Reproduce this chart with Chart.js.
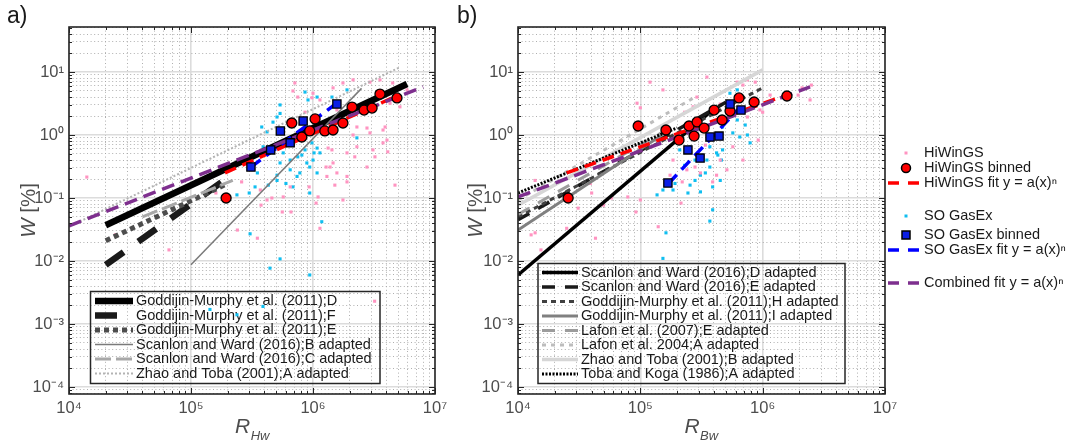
<!DOCTYPE html>
<html>
<head>
<meta charset="utf-8">
<script src="https://cdn.jsdelivr.net/npm/chart.js"></script>
<style>
  html, body { margin: 0; padding: 0; background: #fff; }
  #wrap { position: relative; width: 1066px; height: 441px; }
  #ca { position: absolute; left: 0; top: 0; }
  #cb { position: absolute; left: 455px; top: 0; }
</style>
</head>
<body>
<div id="wrap">
  <canvas id="ca" width="455" height="441"></canvas>
  <canvas id="cb" width="611" height="441"></canvas>
</div>
<script>
// axis limits
var xLimits = [1e4, 1e7]
var yLimits = [7.74e-5, 51.8]

// ---- panel a) : against R_Hw ----
var aPinkX = [1.4e4, 2.4e4, 6.6e4, 1.6e5, 2.4e5, 3.5e5, 3.75e5, 4.6e5, 5.6e5, 6.6e5, 9.3e5, 1.06e6, 1.14e6, 1.28e6, 3.2e6, 6.5e5, 5.7e5, 4.2e5, 3.7e5, 2.6e5, 7.1e5, 1.46e6, 2.13e6, 2.93e6, 3.54e6, 1.0e6, 1.14e6, 1.57e6, 1.9e6, 2.29e6, 2.13e6, 2.77e6, 3.75e6, 4.04e6, 3.1e6, 2.29e6, 1.43e6, 1.3e6, 1.9e6, 1.46e6, 4.28e6, 5.16e6, 7.5e5, 9.8e5, 1.33e6, 1.9e6, 2.2e6, 1.57e6, 1.9e6, 1.51e6, 1.1e6, 2.77e6, 3.22e6, 3.75e6, 4.1e6, 3.9e6, 2.93e6, 1.76e6, 4.5e6, 4.9e6, 5.9e6, 1.76e6, 1.38e6, 6.85e5, 8.6e5, 4.7e6]
var aPinkY = [0.215, 0.026, 0.015, 0.12, 0.031, 0.023, 0.077, 0.10, 0.060, 0.060, 0.15, 0.083, 0.033, 0.31, 0.0023, 0.15, 0.104, 0.093, 0.134, 0.18, 6.7, 5.6, 7.5, 6.9, 7.5, 4.6, 3.6, 2.5, 2.2, 1.34, 1.0, 1.29, 1.2, 0.83, 0.58, 0.65, 0.58, 0.22, 0.22, 0.36, 3.2, 2.8, 4.0, 3.9, 0.62, 0.52, 0.45, 0.25, 0.18, 0.16, 0.104, 0.31, 0.45, 0.75, 0.54, 1.34, 1.08, 0.093, 6.7, 5.2, 5.2, 6.7, 0.31, 5.0, 2.3, 0.16]
var aCyanX = [3.05e5, 5.37e5, 4.44e5, 9.4e5, 1.18e6, 1.43e5, 2.38e5, 3.89e5, 2.38e5, 3.0e5, 4.3e5, 5.07e5, 6.0e5, 8.1e5, 8.9e5, 1.02e6, 3.8e5, 4.7e5, 5.37e5, 5.37e5, 8.6e5, 9.1e5, 1.08e6, 3.9e5, 5.7e5, 6.5e5, 7.5e5, 8.6e5, 9.8e5, 1.08e6, 1.0e6, 1.14e6, 6.5e5, 9.4e5, 7.4e5, 5.07e5, 3.5e5, 3.35e5, 5.07e5, 4.2e5, 8.9e5, 1.04e6, 1.43e6, 1.9e6, 1.57e6, 2.29e6, 9.4e5, 6.85e5, 7.8e5, 5.37e5, 1.08e6]
var aCyanY = [0.027, 0.0108, 0.0077, 0.006, 0.042, 0.0017, 0.0014, 0.0019, 0.112, 0.12, 0.16, 0.23, 0.17, 0.48, 0.36, 0.52, 1.34, 1.6, 3.0, 2.2, 4.8, 3.6, 4.0, 0.65, 0.52, 0.40, 0.45, 0.58, 0.75, 0.62, 0.40, 0.52, 0.28, 0.31, 0.22, 0.19, 0.25, 0.15, 1.93, 1.12, 1.34, 1.12, 4.0, 5.2, 3.3, 0.9, 0.12, 0.15, 0.25, 0.36, 0.25]
var aBinX = [1.94e5, 6.7e5, 8.1e5, 9.4e5, 1.04e6, 1.25e6, 1.46e6, 1.76e6, 2.09e6, 2.62e6, 3.05e6, 3.54e6, 4.88e6]
var aBinY = [0.10, 1.55, 0.93, 1.16, 1.80, 1.16, 1.20, 1.55, 2.78, 2.49, 2.68, 4.47, 3.87]
var aSoBinX = [3.1e5, 4.5e5, 5.4e5, 6.5e5, 8.3e5, 1.57e6]
var aSoBinY = [0.31, 0.58, 1.16, 0.75, 1.67, 3.1]

var aRefNames = ['Goddijin-Murphy et al. (2011);D', 'Goddijin-Murphy et al. (2011);F', 'Goddijin-Murphy et al. (2011);E', 'Scanlon and Ward (2016);B adapted', 'Scanlon and Ward (2016);C adapted', 'Zhao and Toba (2001);A adapted']
var aRefX = [[2e4, 5.9e6], [2e4, 2e5], [2e4, 2e5], [1e5, 2.5e6], [4e4, 2.2e5], [1e4, 5.2e6]]
var aRefY = [[0.037, 6.45], [0.0087, 0.21], [0.021, 0.17], [0.0087, 5.5], [0.05, 0.19], [0.035, 12]]

var aFitX = [[1.9e5, 4.9e6], [3.1e5, 1.6e6], [1e4, 8e6]]
var aFitY = [[0.25, 4.2], [0.31, 3.3], [0.036, 5.8]]

// ---- panel b) : against R_Bw ----
var bPinkX = [1.38e4, 9.4e4, 1.2e5, 1.53e5, 2.9e5, 3.5e5, 6.2e5, 7.5e5, 8.7e5, 2.3e5, 1.85e5, 2.4e5, 2.2e5, 3.1e5, 4.5e5, 5.7e5, 7.5e5, 9.5e5, 7.9e4, 1.0e5, 3.9e4, 1.0e5, 2.7e5, 6.9e5, 9.0e5, 1.0e6, 9.2e5, 6.9e5, 5.1e5, 4.2e5, 3.9e5, 2.8e5, 1.75e5, 4.0e4, 2.1e6, 2.44e6, 1.95e6, 2.5e6, 1.28e4, 1.54e4, 2.5e4, 3.1e4, 4.3e4, 5.0e4, 5.8e4, 9.2e4, 1.4e5, 2.15e5, 4.5e5, 3.4e5, 1.15e6, 1.38e4]
var bPinkY = [0.19, 3.2, 6.9, 5.2, 4.0, 8.3, 6.9, 7.5, 6.9, 2.3, 0.40, 0.28, 0.18, 0.25, 0.40, 0.65, 1.93, 2.5, 0.104, 0.093, 0.17, 2.7, 2.8, 6.2, 3.2, 2.3, 0.83, 0.40, 0.28, 0.23, 0.18, 0.31, 0.23, 0.12, 5.6, 3.6, 4.3, 6.2, 0.026, 0.015, 0.033, 0.069, 0.023, 0.077, 0.10, 0.060, 0.035, 0.083, 3.1, 0.69, 4.3, 0.028]
var bCyanX = [5.4e5, 6.2e5, 4.7e5, 6.2e5, 5.7e5, 6.5e5, 7.5e5, 7.9e5, 3.7e5, 4.2e5, 4.7e5, 4.6e5, 3.5e5, 3.7e5, 2.55e5, 2.1e5, 3.1e5, 1.85e5, 2.55e5, 1.53e5, 1.37e5, 3.9e5, 4.5e5, 1.92e5, 2.45e5, 3.1e5, 3.7e5, 1.53e5, 1.62e5, 4.3e5, 3.9e5, 2.8e5, 5.1e5, 7.2e5, 3.4e5, 2.3e5, 2.8e5]
var bCyanY = [4.6, 5.2, 1.34, 1.73, 1.08, 0.93, 1.0, 0.75, 0.65, 0.52, 0.58, 0.40, 0.40, 0.31, 0.65, 0.58, 0.23, 0.134, 0.16, 0.134, 0.112, 0.15, 0.19, 0.17, 0.12, 0.125, 0.043, 0.011, 0.028, 0.48, 0.065, 0.40, 2.3, 1.44, 0.25, 0.33, 0.19]
var bBinX = [2.57e4, 9.6e4, 1.62e5, 2.07e5, 2.5e5, 2.91e5, 2.75e5, 3.32e5, 4.01e5, 4.66e5, 5.41e5, 6.41e5, 8.51e5, 1.58e6]
var bBinY = [0.10, 1.39, 1.20, 0.83, 1.39, 1.61, 0.96, 1.29, 2.49, 1.73, 2.40, 3.87, 3.34, 4.16]
var bSoBinX = [1.68e5, 2.45e5, 3.08e5, 3.71e5, 4.4e5, 5.41e5, 6.65e5]
var bSoBinY = [0.173, 0.58, 0.43, 0.93, 0.96, 3.1, 2.49]

var bRefNames = ['Scanlon and Ward (2016);D adapted', 'Scanlon and Ward (2016);E adapted', 'Goddijin-Murphy et al. (2011);H adapted', 'Goddijin-Murphy et al. (2011);I adapted', 'Lafon et al. (2007);E adapted', 'Lafon et al. 2004;A adapted', 'Zhao and Toba (2001);B adapted', 'Toba and Koga (1986);A adapted']
var bRefX = [[1e4, 3.9e5], [1e4, 5e5], [1e4, 1e6], [1e4, 1.5e5], [1e4, 2e5], [1e4, 2.8e5], [1e4, 1e6], [1e4, 2e5]]
var bRefY = [[0.006, 2.5], [0.045, 3.3], [0.05, 5.6], [0.031, 1.0], [0.055, 1.5], [0.093, 4.0], [0.077, 10.8], [0.12, 1.3]]

var bFitX = [[2.5e4, 1.67e6], [1.7e5, 6.5e5], [1e4, 2.44e6]]
var bFitY = [[0.25, 4.5], [0.17, 2.7], [0.104, 5.8]]

var fitNames = ['HiWinGS fit y = a(x)ⁿ', 'SO GasEx fit y = a(x)ⁿ', 'Combined fit y = a(x)ⁿ']

// line styles (kept apart from the values)
var aRefStyles = [
  {color: '#000000', width: 6.5, dash: []},
  {color: '#1a1a1a', width: 6.5, dash: [22, 18]},
  {color: '#4d4d4d', width: 5, dash: [5, 4]},
  {color: '#7a7a7a', width: 1.5, dash: []},
  {color: '#a8a8a8', width: 3, dash: [16, 5]},
  {color: '#b3b3b3', width: 2, dash: [2, 2]}
]
var bRefStyles = [
  {color: '#000000', width: 3.5, dash: []},
  {color: '#1a1a1a', width: 3.5, dash: [13, 10]},
  {color: '#404040', width: 3, dash: [5, 4]},
  {color: '#808080', width: 3, dash: []},
  {color: '#9c9c9c', width: 3, dash: [13, 10]},
  {color: '#bdbdbd', width: 3, dash: [4, 5]},
  {color: '#d6d6d6', width: 3.5, dash: []},
  {color: '#000000', width: 3, dash: [2, 1.5]}
]
var fitStyles = [
  {color: '#ff0000', width: 3.5, dash: [12, 7]},
  {color: '#0000ff', width: 3.5, dash: [12, 7]},
  {color: '#7e2f8e', width: 3.5, dash: [13, 7]}
]
var PINK = '#ff94c1'
var CYAN = '#10bef0'
var FONT = '"Liberation Sans", Arial, Helvetica, sans-serif'

Chart.defaults.font.family = FONT

var SUP = {'-': '⁻', '0': '⁰', '1': '¹', '2': '²', '3': '³', '4': '⁴', '5': '⁵', '6': '⁶', '7': '⁷', '8': '⁸', '9': '⁹'}

function decadeLabel(v) {
  var e = Math.round(Math.log10(v))
  if (Math.abs(v / Math.pow(10, e) - 1) > 1e-6) return ''
  return '10' + String(e).split('').map(function(c){ return SUP[c] }).join('')
}

// 1..9 x 10^n ticks, like a matlab log axis
function logTicks(scale) {
  var lo = Math.floor(Math.log10(scale.min)), hi = Math.ceil(Math.log10(scale.max))
  var out = []
  for (var e = lo; e <= hi; e++) {
    for (var k = 1; k <= 9; k++) {
      var v = k * Math.pow(10, e)
      if (v >= scale.min && v <= scale.max * 1.000001) out.push({value: v, major: k === 1})
    }
  }
  scale.ticks = out
}

function pts(xs, ys) {
  return xs.map(function(x, i){ return {x: x, y: ys[i]} })
}

function line(label, xs, ys, st, order) {
  return {label: label, data: pts(xs, ys), showLine: true, pointRadius: 0, borderColor: st.color,
    backgroundColor: st.color, borderWidth: st.width, borderDash: st.dash, borderCapStyle: 'butt', fill: false, order: order}
}
function dots(label, xs, ys, color) {
  return {label: label, data: pts(xs, ys), pointStyle: 'rect', pointRadius: 2.2, pointBorderWidth: 0,
    backgroundColor: color, borderColor: color, borderWidth: 0, showLine: false, order: 4}
}
function circles(label, xs, ys) {
  return {label: label, data: pts(xs, ys), pointStyle: 'circle', pointRadius: 5, pointBorderWidth: 1.3,
    backgroundColor: '#ff0000', borderColor: '#000000', showLine: false, order: 1.1}
}
function squares(label, xs, ys) {
  return {label: label, data: pts(xs, ys), pointStyle: 'rect', pointRadius: 5.8, pointBorderWidth: 1.3,
    backgroundColor: '#0a1ee6', borderColor: '#000000', showLine: false, order: 1}
}

function buildSets(refNames, refX, refY, refStyles, fitX, fitY, pinkX, pinkY, cyanX, cyanY, binX, binY, soX, soY) {
  var ds = []
  refNames.forEach(function(n, i){
    ds.push(line(n, refX[i], refY[i], refStyles[i], 3 + (refNames.length - i) / 100))
  })
  fitNames.forEach(function(n, i){
    ds.push(line(n, fitX[i], fitY[i], fitStyles[i], 2 + (fitNames.length - i) / 100))
  })
  ds.push(dots('HiWinGS', pinkX, pinkY, PINK))
  ds.push(dots('SO GasEx', cyanX, cyanY, CYAN))
  ds.push(circles('HiWinGS binned', binX, binY))
  ds.push(squares('SO GasEx binned', soX, soY))
  return ds
}

var panelCfg = {
  ca: {tag: 'a)', tagX: 7, yTitleX: 29, xTitleCx: 252, sub: 'Hw',
    box: {left: 90.5, top: 291.5, right: 380, bottom: 383.5, rowTop: 301, rowStep: 14.5, lineFrom: 95, lineTo: 133, textX: 136, items: [0, 1, 2, 3, 4, 5]},
    outer: null},
  cb: {tag: 'b)', tagX: 2, yTitleX: 21, xTitleCx: 246, sub: 'Bw',
    box: {left: 83, top: 263.5, right: 390, bottom: 383.5, rowTop: 272.5, rowStep: 14.5, lineFrom: 87, lineTo: 123, textX: 126, items: [0, 1, 2, 3, 4, 5, 6, 7]},
    outer: {markX: 451, lineFrom: 433, lineTo: 465, textX: 469, rows: [
      {ds: 11, kind: 'dot', y: 153}, {ds: 13, kind: 'circle', y: 168}, {ds: 8, kind: 'line', y: 183},
      {ds: 12, kind: 'dot', y: 216}, {ds: 14, kind: 'square', y: 235}, {ds: 9, kind: 'line', y: 250},
      {ds: 10, kind: 'line', y: 283}]}}
}

var paper = {
  id: 'paper',
  beforeDatasetsDraw: function(chart) {
    // legend box inside the axes (transparent, data drawn over it)
    var cfg = panelCfg[chart.canvas.id], b = cfg.box, ctx = chart.ctx
    ctx.save()
    ctx.strokeStyle = '#262626'
    ctx.lineWidth = 1.5
    ctx.strokeRect(b.left, b.top, b.right - b.left, b.bottom - b.top)
    b.items.forEach(function(di, r){
      var ds = chart.data.datasets[di]
      var y = b.rowTop + r * b.rowStep
      ctx.save()
      ctx.strokeStyle = ds.borderColor
      ctx.lineWidth = ds.borderWidth
      ctx.lineCap = 'butt'
      ctx.setLineDash(ds.borderDash || [])
      ctx.beginPath(); ctx.moveTo(b.lineFrom, y); ctx.lineTo(b.lineTo, y); ctx.stroke()
      ctx.restore()
      ctx.fillStyle = '#1a1a1a'
      ctx.font = '14.5px ' + FONT
      ctx.textBaseline = 'middle'
      ctx.fillText(ds.label, b.textX, y)
    })
    ctx.restore()
  },
  afterDatasetsDraw: function(chart) {
    var ctx = chart.ctx, a = chart.chartArea
    ctx.save()
    ctx.strokeStyle = '#262626'
    ctx.lineWidth = 1
    chart.scales.x.ticks.forEach(function(t){
      var p = Math.round(chart.scales.x.getPixelForValue(t.value)) + 0.5
      var len = t.major ? 6 : 3
      ctx.beginPath()
      ctx.moveTo(p, a.bottom); ctx.lineTo(p, a.bottom - len)
      ctx.moveTo(p, a.top); ctx.lineTo(p, a.top + len)
      ctx.stroke()
    })
    chart.scales.y.ticks.forEach(function(t){
      var p = Math.round(chart.scales.y.getPixelForValue(t.value)) + 0.5
      var len = t.major ? 6 : 3
      ctx.beginPath()
      ctx.moveTo(a.left, p); ctx.lineTo(a.left + len, p)
      ctx.moveTo(a.right, p); ctx.lineTo(a.right - len, p)
      ctx.stroke()
    })
    ctx.lineWidth = 1.6
    ctx.strokeRect(a.left, a.top, a.right - a.left, a.bottom - a.top)
    ctx.restore()
  },
  afterDraw: function(chart) {
    var cfg = panelCfg[chart.canvas.id], ctx = chart.ctx, a = chart.chartArea
    ctx.save()
    ctx.textBaseline = 'middle'
    ctx.textAlign = 'left'
    ctx.fillStyle = '#1a1a1a'
    ctx.font = '23px ' + FONT
    ctx.fillText(cfg.tag, cfg.tagX, 17)

    // y title: W [%]
    ctx.save()
    ctx.translate(cfg.yTitleX, (a.top + a.bottom) / 2)
    ctx.rotate(-Math.PI / 2)
    ctx.fillStyle = '#4d4d4d'
    ctx.font = 'italic 20.5px ' + FONT
    var w1 = ctx.measureText('W').width
    ctx.font = '20.5px ' + FONT
    var w2 = ctx.measureText(' [%]').width
    var s = -(w1 + w2) / 2
    ctx.font = 'italic 20.5px ' + FONT
    ctx.fillText('W', s, 0)
    ctx.font = '20.5px ' + FONT
    ctx.fillText(' [%]', s + w1, 0)
    ctx.restore()

    // x title: R with subscript
    ctx.fillStyle = '#4d4d4d'
    ctx.textBaseline = 'alphabetic'
    ctx.font = 'italic 21px ' + FONT
    var r1 = ctx.measureText('R').width
    ctx.font = 'italic 13px ' + FONT
    var r2 = ctx.measureText(cfg.sub).width
    var sx = cfg.xTitleCx - (r1 + r2) / 2
    ctx.font = 'italic 21px ' + FONT
    ctx.fillText('R', sx, 433)
    ctx.font = 'italic 13px ' + FONT
    ctx.fillText(cfg.sub, sx + r1 + 0.5, 439.5)

    // legend outside the axes
    var o = cfg.outer
    if (o) {
      o.rows.forEach(function(row){
        var ds = chart.data.datasets[row.ds]
        ctx.save()
        if (row.kind === 'dot') {
          ctx.fillStyle = ds.backgroundColor
          ctx.fillRect(o.markX - 1.5, row.y - 1.5, 3, 3)
        } else if (row.kind === 'circle') {
          ctx.beginPath(); ctx.arc(o.markX, row.y, 4.5, 0, Math.PI * 2)
          ctx.fillStyle = ds.backgroundColor; ctx.fill()
          ctx.lineWidth = 1.5; ctx.strokeStyle = '#000'; ctx.stroke()
        } else if (row.kind === 'square') {
          ctx.fillStyle = ds.backgroundColor
          ctx.fillRect(o.markX - 4, row.y - 4, 8, 8)
          ctx.lineWidth = 1.5; ctx.strokeStyle = '#000'
          ctx.strokeRect(o.markX - 4, row.y - 4, 8, 8)
        } else {
          ctx.strokeStyle = ds.borderColor
          ctx.lineWidth = ds.borderWidth
          ctx.setLineDash([11, 9])
          ctx.beginPath(); ctx.moveTo(o.lineFrom, row.y); ctx.lineTo(o.lineTo, row.y); ctx.stroke()
        }
        ctx.restore()
        ctx.fillStyle = '#1a1a1a'
        ctx.textBaseline = 'middle'
        ctx.font = '14.5px ' + FONT
        ctx.fillText(ds.label, o.textX, row.y)
      })
    }
    ctx.restore()
  }
}

var gridOpts = {
  drawTicks: false,
  color: function(c){ return c.tick && c.tick.major ? '#dcdcdc' : '#a6a6a6' },
  lineWidth: function(c){ return c.tick && c.tick.major ? 1.6 : 0.9 }
}
var borderOpts = {
  display: false,
  dash: function(c){ return c.tick && c.tick.major ? [] : [1, 2.6] }
}

function axes(yWidth) {
  return {
    x: {
      type: 'logarithmic', position: 'bottom', min: xLimits[0], max: xLimits[1],
      afterBuildTicks: logTicks,
      afterFit: function(s){ s.height = 47 },
      grid: gridOpts, border: borderOpts,
      ticks: {autoSkip: false, maxRotation: 0, minRotation: 0, padding: 5, color: '#4d4d4d', font: {size: 16.5}, callback: decadeLabel}
    },
    y: {
      type: 'logarithmic', position: 'left', min: yLimits[0], max: yLimits[1],
      afterBuildTicks: logTicks,
      afterFit: function(s){ s.width = yWidth },
      grid: gridOpts, border: borderOpts,
      ticks: {autoSkip: false, padding: 5, color: '#4d4d4d', font: {size: 16.5}, callback: decadeLabel}
    }
  }
}

function makeChart(id, datasets, yWidth, padRight) {
  return new Chart(document.getElementById(id), {
    type: 'scatter',
    data: {datasets: datasets},
    options: {
      responsive: false,
      animation: false,
      events: [],
      layout: {padding: {top: 27, right: padRight, left: 0, bottom: 0}},
      plugins: {legend: {display: false}, tooltip: {enabled: false}},
      scales: axes(yWidth)
    },
    plugins: [paper]
  })
}

var setsA = buildSets(aRefNames, aRefX, aRefY, aRefStyles, aFitX, aFitY, aPinkX, aPinkY, aCyanX, aCyanY, aBinX, aBinY, aSoBinX, aSoBinY)
var setsB = buildSets(bRefNames, bRefX, bRefY, bRefStyles, bFitX, bFitY, bPinkX, bPinkY, bCyanX, bCyanY, bBinX, bBinY, bSoBinX, bSoBinY)

makeChart('ca', setsA, 69, 20)
makeChart('cb', setsB, 63, 181)
</script>
</body>
</html>
